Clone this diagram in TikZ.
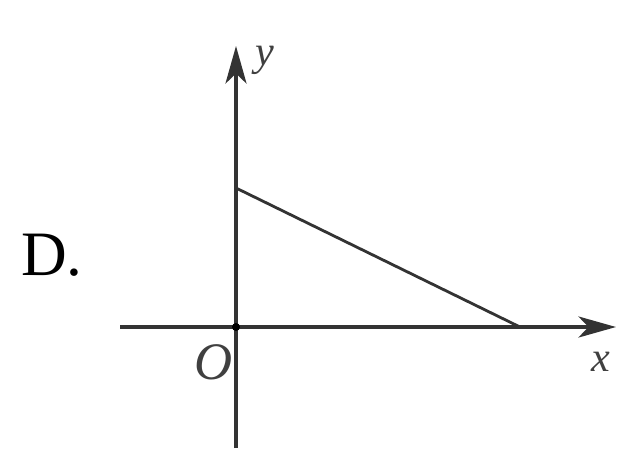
\documentclass[tikz,border=0pt]{standalone}
\usepackage{fontspec}
\setmainfont{Liberation Serif}
\usetikzlibrary{arrows.meta, positioning}

\begin{document}
\begin{tikzpicture}[
        x=0.02cm, y=-0.02cm,
        axis/.style={line width=2.1pt, draw=black!80, -{Stealth[length=0.75cm, width=0.42cm, inset=0.2cm]}},
        graph/.style={line width=1.6pt, draw=black!80},
        lbl/.style={font=\fontsize{24}{26}\selectfont\itshape, text=black!75, inner sep=0pt},
        choice/.style={font=\fontsize{36}{38}\selectfont, inner sep=0pt}
    ]
        \useasboundingbox (0,0) rectangle (619,451);
        \coordinate (origin) at (236,327);
        \coordinate (xstart) at (120,327);
        \coordinate (xend) at (616,327);
        \coordinate (ystart) at (236,448);
        \coordinate (yend) at (236,46);
        \coordinate (yint) at (236,188);
        \coordinate (xint) at (520,327);
        \draw[axis] (xstart) -- (xend);
        \draw[axis] (ystart) -- (yend);
        \draw[graph] (yint) -- (xint);
        \fill[black] (origin) circle (4);
        \node[choice] (opt) at (52,255) {D.};
        \node[lbl, font=\fontsize{30}{32}\selectfont\itshape] (o) at (214,362) {O};
        \node[lbl] (xl) at (601,362) {x};
        \node[lbl] (yl) at (265,60) {y};
    \end{tikzpicture}
\end{document}
